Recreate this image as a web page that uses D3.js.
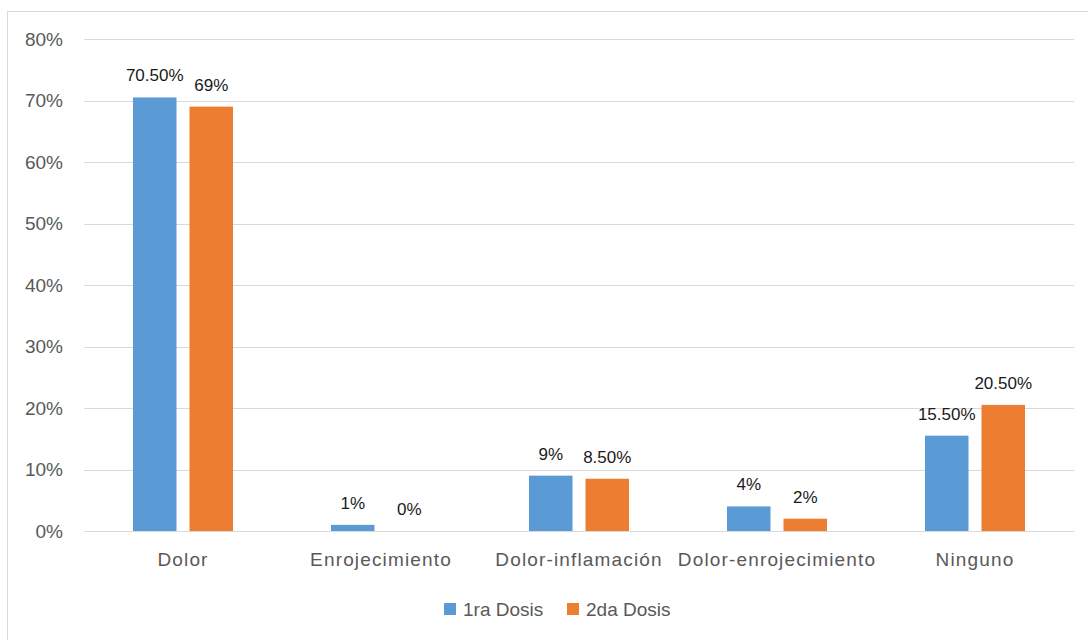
<!DOCTYPE html>
<html>
<head>
<meta charset="utf-8">
<script src="https://cdn.jsdelivr.net/npm/d3@7"></script>
<style>
  body { margin: 0; background: #fff; }
  text { font-family: "Liberation Sans", Arial, sans-serif; }
</style>
</head>
<body>
<div id="chart"></div>
<script>
// Chart data
var categories = ["Dolor", "Enrojecimiento", "Dolor-inflamación", "Dolor-enrojecimiento", "Ninguno"];
var seriesNames = ["1ra Dosis", "2da Dosis"];
var dosis1 = [70.5, 1, 9, 4, 15.5];
var dosis2 = [69, 0, 8.5, 2, 20.5];
var yTicks = [0, 10, 20, 30, 40, 50, 60, 70, 80];

var colors = ["#5B9BD5", "#ED7D31"];

// SVG area
var svgWidth = 1088;
var svgHeight = 640;

var Margin = { top: 39, right: 14, bottom: 109, left: 84 };

var svg = d3.select("#chart")
  .append("svg")
  .attr("width", svgWidth)
  .attr("height", svgHeight);

// Chart border
svg.append("rect")
  .attr("x", 7.5)
  .attr("y", 11.5)
  .attr("width", 1100)
  .attr("height", 700)
  .attr("fill", "none")
  .attr("stroke", "#d9d9d9")
  .attr("stroke-width", 1);

// Scales
var x0 = d3.scaleBand()
  .domain(categories)
  .range([Margin.left, svgWidth - Margin.right])
  .paddingInner(0.495)
  .paddingOuter(0.2475);

var x1 = d3.scaleBand()
  .domain(seriesNames)
  .range([0, x0.bandwidth()])
  .paddingInner(0.23);

var y = d3.scaleLinear()
  .domain([0, 80])
  .range([svgHeight - Margin.bottom, Margin.top]);

// Gridlines
svg.append("g")
  .selectAll("line")
  .data(yTicks)
  .enter()
  .append("line")
  .attr("x1", Margin.left)
  .attr("x2", svgWidth - Margin.right)
  .attr("y1", d => Math.round(y(d)) + 0.5)
  .attr("y2", d => Math.round(y(d)) + 0.5)
  .attr("stroke", "#d9d9d9")
  .attr("stroke-width", 1);

// Y tick labels
svg.append("g")
  .selectAll("text")
  .data(yTicks)
  .enter()
  .append("text")
  .attr("x", 63)
  .attr("y", d => y(d))
  .attr("dy", "0.36em")
  .attr("text-anchor", "end")
  .attr("font-size", "19px")
  .attr("fill", "#595959")
  .text(d => d + "%");

// Build rows for bars
var rows = [];
categories.forEach(function(c, i) {
  rows.push({ cat: c, series: seriesNames[0], value: dosis1[i], color: colors[0] });
  rows.push({ cat: c, series: seriesNames[1], value: dosis2[i], color: colors[1] });
});

// Bars
svg.append("g")
  .selectAll("rect")
  .data(rows)
  .enter()
  .append("rect")
  .attr("x", d => x0(d.cat) + x1(d.series))
  .attr("y", d => y(d.value))
  .attr("width", x1.bandwidth())
  .attr("height", d => y(0) - y(d.value))
  .attr("fill", d => d.color);

// Data labels
function fmt(v) {
  return (Number.isInteger(v) ? v : v.toFixed(2)) + "%";
}

svg.append("g")
  .selectAll("text")
  .data(rows)
  .enter()
  .append("text")
  .attr("x", d => x0(d.cat) + x1(d.series) + x1.bandwidth() / 2)
  .attr("y", d => y(d.value) - 16)
  .attr("text-anchor", "middle")
  .attr("font-size", "17px")
  .attr("fill", "#1a1a1a")
  .text(d => fmt(d.value));

// Category labels
svg.append("g")
  .selectAll("text")
  .data(categories)
  .enter()
  .append("text")
  .attr("x", d => x0(d) + x0.bandwidth() / 2)
  .attr("y", 566)
  .attr("text-anchor", "middle")
  .attr("font-size", "19px")
  .attr("letter-spacing", "1.15px")
  .attr("fill", "#595959")
  .text(d => d);

// Legend
var legendX = [444, 567];
var legend = svg.append("g")
  .selectAll("g")
  .data(seriesNames)
  .enter()
  .append("g")
  .attr("transform", (d, i) => `translate(${legendX[i]}, 603)`);

legend.append("rect")
  .attr("width", 12)
  .attr("height", 12)
  .attr("fill", (d, i) => colors[i]);

legend.append("text")
  .attr("x", 19)
  .attr("y", 13)
  .attr("font-size", "19px")
  .attr("fill", "#595959")
  .text(d => d);
</script>
</body>
</html>
